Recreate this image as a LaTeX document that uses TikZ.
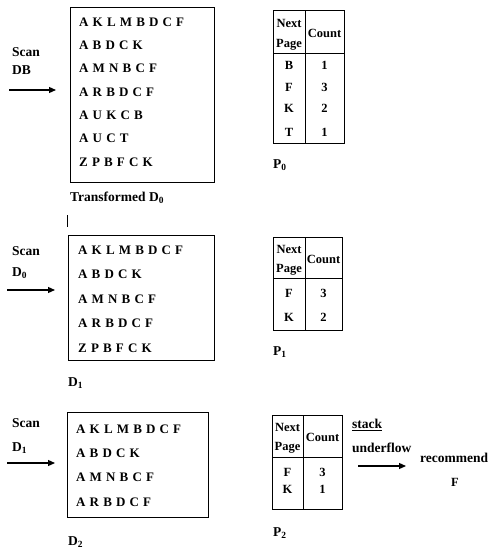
\documentclass[tikz,border=0pt]{standalone}
\usepackage{fontspec}
\setmainfont{Liberation Serif}
\usetikzlibrary{arrows.meta}
\begin{document}
\begin{tikzpicture}[x=1pt,y=-1pt,
  lab/.style={font=\bfseries\fontsize{13.5}{16}\selectfont, inner sep=0pt, anchor=west},
  row/.style={anchor=west, font=\bfseries\fontsize{13}{15}\selectfont, inner sep=0pt, execute at begin node={\spaceskip=0.32em\relax}},
  tx/.style={font=\bfseries\fontsize{12.5}{14}\selectfont, inner sep=0pt},
  frame/.style={draw, line width=0.9pt, anchor=north west, inner sep=0pt},
  tline/.style={line width=0.9pt},
  arr/.style={line width=1.2pt, -{Triangle[length=7pt,width=6pt]}}]
\useasboundingbox (0,0) rectangle (497,549);

% ---------- Panel 1 ----------
\node[lab] (scan1) at (12,52) {Scan};
\node[lab] (db1) at (12,70) {DB};
\coordinate (a1s) at (9,90); \coordinate (a1e) at (56,90);
\draw[arr] (a1s) -- (a1e);
\node[frame, minimum width=144pt, minimum height=175pt] (box1) at (70,7) {};
\node[row] (r11) at (79,22) {A K L M B D C F};
\node[row] (r12) at (79,45.3) {A B D C K};
\node[row] (r13) at (79,68.7) {A M N B C F};
\node[row] (r14) at (79,92) {A R B D C F};
\node[row] (r15) at (79,115.3) {A U K C B};
\node[row] (r16) at (79,138.7) {A U C T};
\node[row] (r17) at (79,162) {Z P B F C K};
\node[lab] (tr1) at (70,198) {Transformed D\textsubscript{0}};
\coordinate (bar1) at (67,215); \coordinate (bar2) at (67,227);
\draw[line width=1pt] (bar1) -- (bar2);

% table 1
\coordinate (t1a) at (273,10); \coordinate (t1b) at (344,143);
\draw[tline] (t1a) rectangle (t1b);
\coordinate (t1h1) at (273,53); \coordinate (t1h2) at (344,53);
\draw[tline] (t1h1) -- (t1h2);
\coordinate (t1v1) at (305,10); \coordinate (t1v2) at (305,143);
\draw[tline] (t1v1) -- (t1v2);
\node[tx] (t1n) at (289,23) {Next};
\node[tx] (t1p) at (289,45) {Page};
\node[tx] (t1c) at (324.5,33) {Count};
\node[tx] (t1k1) at (289,65) {B}; \node[tx] (t1c1) at (324.5,65) {1};
\node[tx] (t1k2) at (289,87) {F}; \node[tx] (t1c2) at (324.5,87) {3};
\node[tx] (t1k3) at (289,108) {K}; \node[tx] (t1c3) at (324.5,108) {2};
\node[tx] (t1k4) at (289,132) {T}; \node[tx] (t1c4) at (324.5,132) {1};
\node[lab] (p0) at (273,165) {P\textsubscript{0}};

% ---------- Panel 2 ----------
\node[lab] (scan2) at (12,251) {Scan};
\node[lab] (d02) at (12,273) {D\textsubscript{0}};
\coordinate (a2s) at (7,290); \coordinate (a2e) at (55,290);
\draw[arr] (a2s) -- (a2e);
\node[frame, minimum width=146pt, minimum height=125pt] (box2) at (68,235) {};
\node[row] (r21) at (78,250) {A K L M B D C F};
\node[row] (r22) at (78,274.5) {A B D C K};
\node[row] (r23) at (78,299) {A M N B C F};
\node[row] (r24) at (78,323.5) {A R B D C F};
\node[row] (r25) at (78,348) {Z P B F C K};
\node[lab] (d1lab) at (68,383) {D\textsubscript{1}};

% table 2
\coordinate (t2a) at (273,237); \coordinate (t2b) at (342,330);
\draw[tline] (t2a) rectangle (t2b);
\coordinate (t2h1) at (273,278); \coordinate (t2h2) at (342,278);
\draw[tline] (t2h1) -- (t2h2);
\coordinate (t2v1) at (305,237); \coordinate (t2v2) at (305,330);
\draw[tline] (t2v1) -- (t2v2);
\node[tx] (t2n) at (289,249) {Next};
\node[tx] (t2p) at (289,270) {Page};
\node[tx] (t2c) at (323.5,259) {Count};
\node[tx] (t2k1) at (289,293) {F}; \node[tx] (t2c1) at (323.5,293) {3};
\node[tx] (t2k2) at (289,317) {K}; \node[tx] (t2c2) at (323.5,317) {2};
\node[lab] (p1) at (273,352) {P\textsubscript{1}};

% ---------- Panel 3 ----------
\node[lab] (scan3) at (12,423) {Scan};
\node[lab] (d13) at (12,448) {D\textsubscript{1}};
\coordinate (a3s) at (7,463); \coordinate (a3e) at (55,463);
\draw[arr] (a3s) -- (a3e);
\node[frame, minimum width=141pt, minimum height=105pt] (box3) at (67,412) {};
\node[row] (r31) at (76,429) {A K L M B D C F};
\node[row] (r32) at (76,453.3) {A B D C K};
\node[row] (r33) at (76,477.7) {A M N B C F};
\node[row] (r34) at (76,502) {A R B D C F};
\node[lab] (d2lab) at (68,542) {D\textsubscript{2}};

% table 3
\coordinate (t3a) at (272,415); \coordinate (t3b) at (342,509);
\draw[tline] (t3a) rectangle (t3b);
\coordinate (t3h1) at (272,457); \coordinate (t3h2) at (342,457);
\draw[tline] (t3h1) -- (t3h2);
\coordinate (t3v1) at (303,415); \coordinate (t3v2) at (303,509);
\draw[tline] (t3v1) -- (t3v2);
\node[tx] (t3n) at (287.5,427) {Next};
\node[tx] (t3p) at (287.5,448) {Page};
\node[tx] (t3c) at (322.5,437) {Count};
\node[tx] (t3k1) at (287.5,472) {F}; \node[tx] (t3c1) at (322.5,472) {3};
\node[tx] (t3k2) at (287.5,489) {K}; \node[tx] (t3c2) at (322.5,489) {1};
\node[lab] (p2) at (273,533) {P\textsubscript{2}};

\node[lab] (stack) at (352,425) {\underline{stack}};
\node[lab] (under) at (352,448) {underflow};
\coordinate (a4s) at (358,466); \coordinate (a4e) at (406,466);
\draw[arr] (a4s) -- (a4e);
\node[lab] (rec) at (420,458) {recommend};
\node[tx] (recF) at (455,482) {F};
\end{tikzpicture}
\end{document}
